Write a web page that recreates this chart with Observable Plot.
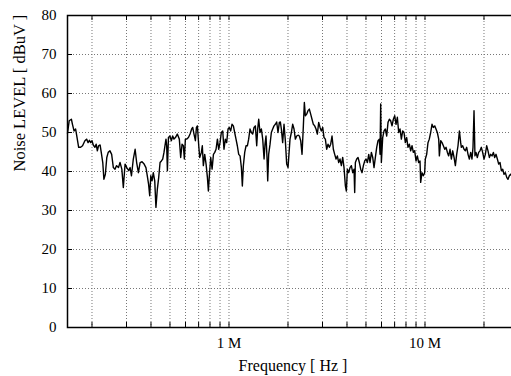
<!DOCTYPE html>
<html>
<head>
<meta charset="utf-8">
<script src="https://cdn.jsdelivr.net/npm/d3@7"></script>
<script src="https://cdn.jsdelivr.net/npm/@observablehq/plot@0.6"></script>
<style>
  html, body { margin: 0; padding: 0; background: #fff; overflow: hidden; }
  #chart { width: 511px; height: 376px; overflow: hidden; }
  #chart svg { max-width: none !important; width: 525px !important; height: 376px !important; display: block; }
  #chart svg, #chart svg text { font-family: "Liberation Serif", "Times New Roman", Times !important; }
</style>
</head>
<body>
<div id="chart"></div>
<script>
// Frequency in MHz
const freqMHz = [
  0.150, 0.153, 0.157, 0.159, 0.162, 0.165, 0.167, 0.171, 0.175, 0.179,
  0.184, 0.188, 0.191, 0.194, 0.197, 0.200, 0.203, 0.207, 0.210, 0.213,
  0.216, 0.220, 0.223, 0.227, 0.230, 0.234, 0.238, 0.242, 0.247, 0.252,
  0.257, 0.262, 0.267, 0.273, 0.278, 0.284, 0.289, 0.295, 0.301, 0.308,
  0.313, 0.318, 0.325, 0.332, 0.338, 0.345, 0.352, 0.360, 0.369, 0.377,
  0.383, 0.389, 0.394, 0.399, 0.405, 0.411, 0.418, 0.424, 0.431, 0.438,
  0.445, 0.452, 0.459, 0.466, 0.474, 0.477, 0.481, 0.485, 0.491, 0.500,
  0.508, 0.516, 0.524, 0.533, 0.545, 0.558, 0.567, 0.576, 0.585, 0.592,
  0.599, 0.608, 0.621, 0.633, 0.645, 0.653, 0.663, 0.674, 0.682, 0.690,
  0.701, 0.709, 0.723, 0.731, 0.740, 0.752, 0.764, 0.776, 0.785, 0.794,
  0.807, 0.820, 0.833, 0.846, 0.859, 0.873, 0.886, 0.900, 0.914, 0.929,
  0.943, 0.958, 0.973, 0.989, 1.004, 1.020, 1.036, 1.053, 1.069, 1.086,
  1.103, 1.121, 1.139, 1.157, 1.170, 1.184, 1.203, 1.222, 1.241, 1.260,
  1.280, 1.301, 1.321, 1.342, 1.363, 1.385, 1.401, 1.418, 1.440, 1.463,
  1.486, 1.510, 1.527, 1.545, 1.563, 1.576, 1.594, 1.620, 1.645, 1.671,
  1.697, 1.724, 1.751, 1.779, 1.807, 1.828, 1.850, 1.879, 1.909, 1.939,
  1.970, 2.001,
  2.048, 2.081, 2.113, 2.147, 2.181, 2.215, 2.250, 2.286, 2.322, 2.359,
  2.396, 2.424, 2.453, 2.491, 2.530, 2.570, 2.611, 2.652, 2.694, 2.737,
  2.780, 2.824, 2.869, 2.914, 2.960, 3.007, 3.054, 3.102, 3.151, 3.201,
  3.252, 3.303, 3.355, 3.408, 3.462, 3.517, 3.572, 3.629, 3.686, 3.744,
  3.803, 3.863, 3.925, 3.971, 4.018, 4.081, 4.146, 4.211, 4.278, 4.345,
  4.379, 4.414, 4.484, 4.554, 4.626, 4.699, 4.774, 4.849, 4.926, 5.004,
  5.083, 5.164, 5.245, 5.328, 5.412, 5.495, 5.583, 5.671, 5.760, 5.851,
  5.897, 5.943, 5.990, 6.085, 6.181, 6.278, 6.378, 6.478, 6.581, 6.683,
  6.789, 6.896, 7.006, 7.116, 7.228, 7.343, 7.459, 7.576, 7.696, 7.816,
  7.940, 8.065, 8.193, 8.322, 8.453, 8.587, 8.722, 8.860, 9.000, 9.142,
  9.286, 9.433, 9.506, 9.656, 9.808, 9.963, 10.04, 10.20, 10.36, 10.52,
  10.69, 10.86, 11.03, 11.21, 11.38, 11.56, 11.75, 11.84, 12.03, 12.22,
  12.41, 12.61, 12.81, 13.01, 13.21, 13.42, 13.63, 13.85, 14.07, 14.29,
  14.51, 14.74, 14.98, 15.21, 15.33, 15.57, 15.82, 16.07, 16.32, 16.58,
  16.84, 17.11, 17.37, 17.58, 17.79, 17.99, 18.21, 18.49, 18.79, 19.08,
  19.39, 19.69, 20.01, 20.32, 20.64, 20.97, 21.30, 21.64, 21.98, 22.33,
  22.68, 23.04, 23.40, 23.77, 24.15, 24.53, 24.92, 25.31, 25.70, 26.12,
  26.52, 26.94, 27.36, 27.69, 28.5, 29.3, 30.0
];

// Noise level in dBuV
const levelDb = [
  49.8, 53.0, 53.4, 52.1, 50.4, 50.9, 49.3, 46.2, 46.2, 46.6,
  47.9, 48.3, 47.4, 48.0, 47.4, 47.9, 46.8, 46.2, 47.0, 45.3,
  46.6, 46.8, 44.9, 42.3, 38.0, 39.3, 43.6, 44.9, 45.3, 44.4,
  41.0, 40.6, 41.5, 41.0, 42.3, 40.6, 35.9, 41.9, 41.0, 40.2,
  41.0, 38.9, 43.2, 45.7, 42.3, 39.7, 42.3, 42.5, 41.9, 41.0,
  38.9, 36.7, 33.8, 38.9, 37.6, 39.7, 37.6, 30.8, 35.5, 38.5,
  42.3, 42.7, 43.2, 44.9, 47.4, 48.3, 46.6, 40.2, 48.7, 49.1,
  47.9, 49.1, 48.3, 48.7, 49.6, 48.3, 43.6, 47.0, 46.6, 43.2,
  48.3, 48.3, 48.7, 49.6, 50.9, 51.3, 49.6, 47.9, 51.3, 51.7,
  46.6, 43.6, 44.9, 46.6, 41.5, 44.4, 41.9, 38.5, 35.0, 38.9,
  43.6, 40.6, 44.4, 44.9, 45.7, 48.3, 45.7, 47.4, 50.0, 50.4,
  45.7, 48.3, 47.4, 50.9, 51.3, 50.4, 52.1, 51.7, 50.0, 48.3,
  46.6, 44.4, 44.0, 41.0, 36.3, 41.5, 44.9, 46.6, 46.6, 48.3,
  50.9, 50.0, 49.6, 51.3, 51.7, 46.6, 50.9, 53.4, 50.0, 50.9,
  48.3, 43.2, 47.0, 49.1, 43.6, 37.6, 44.4, 47.0, 50.0, 50.9,
  51.7, 52.1, 52.7, 50.0, 52.6, 52.7, 50.9, 47.4, 52.1, 47.9,
  41.9, 41.0,
  48.3, 50.0, 52.1, 50.9, 48.3, 49.1, 49.3, 49.1, 47.9, 44.4,
  51.7, 57.7, 54.3, 54.7, 55.6, 56.0, 54.7, 53.4, 52.1, 51.7,
  50.9, 49.6, 52.6, 51.3, 50.4, 51.3, 48.7, 48.3, 45.7, 47.0,
  46.2, 47.0, 49.1, 45.7, 44.4, 43.2, 44.0, 42.3, 43.2, 41.5,
  43.6, 41.0, 36.3, 35.0, 40.6, 39.7, 41.0, 41.5, 39.7, 40.6,
  34.6, 42.3, 43.2, 43.6, 42.3, 40.6, 39.7, 41.5, 42.7, 43.2,
  42.3, 44.4, 42.3, 44.9, 43.6, 41.0, 43.6, 46.2, 47.9, 48.3,
  44.4, 57.3, 42.3, 48.7, 50.4, 50.9, 49.1, 52.6, 53.4, 53.0,
  51.7, 53.4, 54.3, 52.1, 53.9, 50.0, 50.9, 48.3, 50.4, 50.0,
  47.4, 48.7, 46.2, 47.0, 45.3, 46.6, 44.9, 45.3, 42.7, 44.0,
  42.3, 42.7, 37.2, 39.7, 38.9, 39.7, 43.2, 44.4, 47.4, 48.3,
  50.0, 52.1, 51.3, 51.7, 50.9, 50.0, 48.3, 44.0, 47.9, 47.4,
  46.6, 45.7, 46.2, 44.9, 44.0, 45.7, 43.2, 45.3, 43.6, 41.5,
  44.4, 46.6, 50.4, 47.4, 46.2, 46.6, 45.7, 45.3, 46.2, 44.4,
  43.2, 44.9, 43.2, 46.2, 55.6, 44.0, 44.9, 43.6, 44.9, 45.3,
  46.2, 44.9, 43.2, 44.4, 46.6, 45.3, 43.6, 44.4, 44.0, 44.9,
  43.6, 44.4, 43.2, 41.9, 42.3, 40.2, 40.6, 39.3, 39.7, 38.5,
  38.0, 38.9, 39.3, 38.9, 39.7, 40.2, 40.0
];

// Axis / grid values
const gridFreq = [0.2, 0.3, 0.4, 0.5, 0.6, 0.7, 0.8, 0.9, 1, 2, 3, 4, 5, 6, 7, 8, 9, 10, 20];
const labelFreq = [1, 10];
const yTicks = [0, 10, 20, 30, 40, 50, 60, 70, 80];
const xTitle = "Frequency [ Hz ]";
const yTitle = "Noise LEVEL [ dBuV ]";

const data = freqMHz.map((f, i) => ({f, db: levelDb[i]}));

const W = 525, H = 376, mL = 67, mR = 7, mT = 15, mB = 49;
const plotW = W - mL - mR, plotH = H - mT - mB;
const tickLen = 5;
const gridStyle = {stroke: "#777", strokeWidth: 1, strokeDasharray: "1,2"};

const chart = Plot.plot({
  width: W,
  height: H,
  marginLeft: mL,
  marginRight: mR,
  marginTop: mT,
  marginBottom: mB,
  style: {fontSize: "15px", color: "black", background: "white"},
  x: {type: "log", domain: [0.15, 30], ticks: labelFreq, tickFormat: d => d + " M", tickSize: 0, tickPadding: 10, label: null},
  y: {domain: [0, 80], ticks: yTicks, tickSize: 0, tickPadding: 11, label: null},
  marks: [
    Plot.ruleX(gridFreq, {x: d => d, ...gridStyle}),
    Plot.ruleY(yTicks, {y: d => d, ...gridStyle}),
    Plot.tickX(gridFreq, {x: d => d, stroke: "black", insetTop: plotH - tickLen}),
    Plot.tickX(gridFreq, {x: d => d, stroke: "black", insetBottom: plotH - tickLen}),
    Plot.tickY(yTicks, {y: d => d, stroke: "black", insetRight: plotW - tickLen}),
    Plot.tickY(yTicks, {y: d => d, stroke: "black", insetLeft: plotW - tickLen}),
    Plot.line(data, {x: "f", y: "db", stroke: "black", strokeWidth: 1.4}),
    Plot.frame({stroke: "black", strokeWidth: 1.5}),
    Plot.text([xTitle], {text: d => d, frameAnchor: "bottom", dy: 43, fontSize: 16}),
    Plot.text([yTitle], {text: d => d, frameAnchor: "left", dx: -48, rotate: -90, fontSize: 16.5})
  ]
});

document.getElementById("chart").appendChild(chart);
</script>
</body>
</html>
